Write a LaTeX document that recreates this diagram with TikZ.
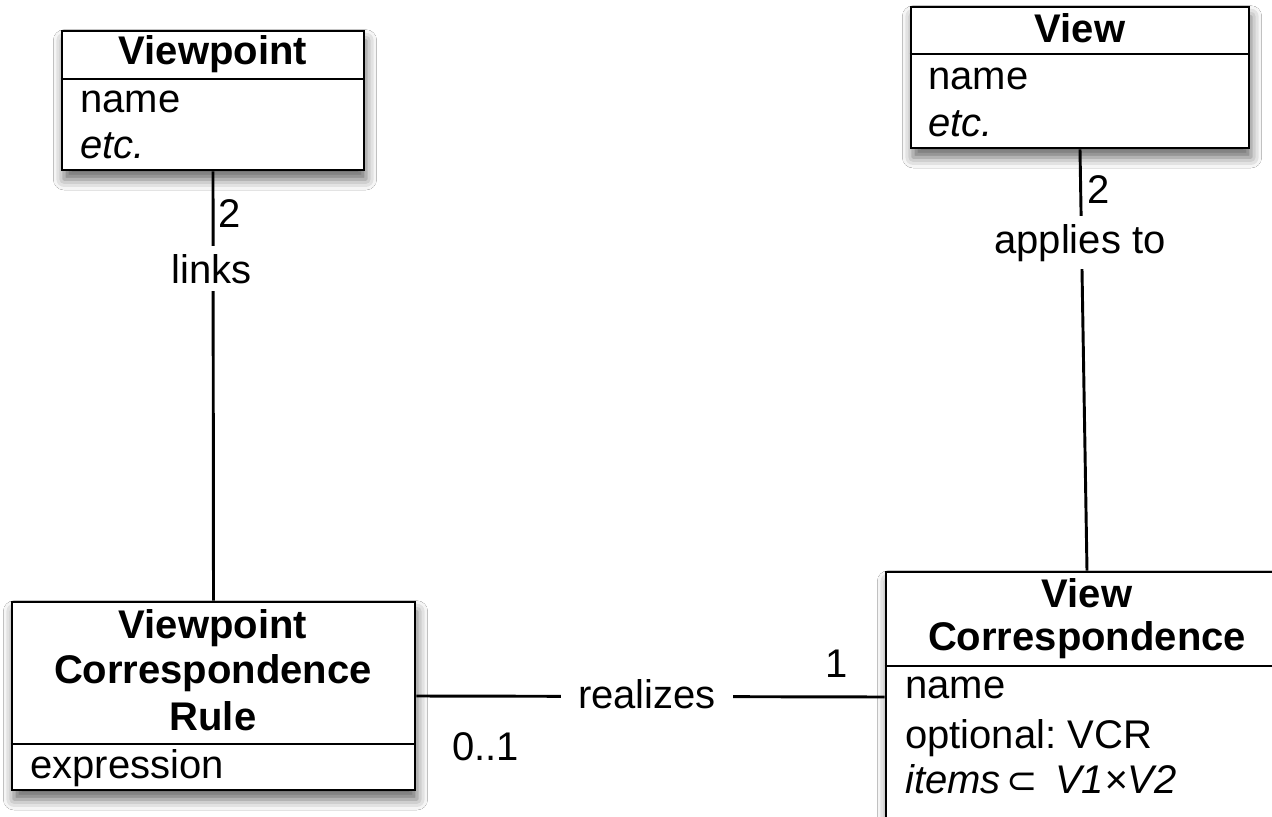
\documentclass[tikz,border=0pt]{standalone}
\usepackage{fontspec}
\setmainfont{Liberation Sans}
\newfontfamily\symfont{DejaVu Sans}
\usetikzlibrary{fit,shadows.blur}
\frenchspacing

\tikzset{
  umlbox/.style={draw=black, line width=2.2pt, fill=white, inner sep=0pt,
    blur shadow={shadow xshift=1.5pt, shadow yshift=-7pt,
                 shadow blur radius=8pt, shadow opacity=60}},
  divider/.style={draw=black, line width=2.2pt},
  conn/.style={draw=black, line width=2.2pt},
  classname/.style={anchor=base, inner sep=0pt, font=\fontsize{30}{34}\selectfont\bfseries},
  attr/.style={anchor=base west, inner sep=0pt},
  mult/.style={anchor=base west, inner sep=0pt},
  role/.style={anchor=base, fill=white, inner xsep=4pt, inner ysep=6pt},
}

\begin{document}
\begin{tikzpicture}[x=0.75pt, y=-0.75pt, font=\fontsize{30}{34}\selectfont]
  \useasboundingbox (0,0) rectangle (1272,817);
  \clip (0,0) rectangle (1272,817);
  \fill[white] (0,0) rectangle (1272,817);

  % class frames
  \node[umlbox, fit={(62,31) (364,170)}] (vp) {};
  \node[umlbox, fit={(911,7) (1249,148)}] (vw) {};
  \node[umlbox, fit={(12,602) (415,790)}] (vcr) {};
  \node[umlbox, fit={(886,572) (1288,822)}] (vc) {};

  % compartment separators
  \draw[divider] (vp.west |- 0,79) -- (vp.east |- 0,79);
  \draw[divider] (vw.west |- 0,54) -- (vw.east |- 0,54);
  \draw[divider] (vcr.west |- 0,744) -- (vcr.east |- 0,744);
  \draw[divider] (vc.west |- 0,666) -- (vc.east |- 0,666);

  % Viewpoint
  \node[classname] (vp-t) at (213,65) {Viewpoint};
  \node[attr] (vp-a1) at (80,113) {name};
  \node[attr] (vp-a2) at (80,158) {\itshape etc.};

  % View
  \node[classname] (vw-t) at (1080,43) {View};
  \node[attr] (vw-a1) at (928,90) {name};
  \node[attr] (vw-a2) at (928,137) {\itshape etc.};

  % Viewpoint Correspondence Rule
  \node[classname] (vcr-t1) at (213,638) {Viewpoint};
  \node[classname] (vcr-t2) at (213,683) {Correspondence};
  \node[classname] (vcr-t3) at (213,730) {Rule};
  \node[attr] (vcr-a1) at (30,778) {expression};

  % View Correspondence
  \node[classname] (vc-t1) at (1087,607) {View};
  \node[classname] (vc-t2) at (1087,650) {Correspondence};
  \node[attr] (vc-a1) at (905,698) {name};
  \node[attr] (vc-a2) at (905,748) {optional: VCR};
  \node[attr] (vc-a3) at (905,793) {\itshape items\hspace{4pt}{\upshape\symfont\fontsize{28}{30}\selectfont ⊂}\, V1×V2};

  % associations
  \draw[conn] (vp.south) -- (vcr.north);
  \draw[conn] (vw.south) -- (vc.north);
  \draw[conn] (vcr.east) -- (vc.west);

  % association labels
  \node[role] (lk) at (212,283) {links};
  \node[role] (ap) at (1080,253) {applies to};
  \node[role, inner xsep=13pt] (rz) at (647,708) {realizes};

  % multiplicities
  \node[mult] (m1) at (218,227) {2};
  \node[mult] (m2) at (1087,203) {2};
  \node[mult] (m3) at (825,677) {1};
  \node[mult] (m4) at (452,760) {0..1};
\end{tikzpicture}
\end{document}
